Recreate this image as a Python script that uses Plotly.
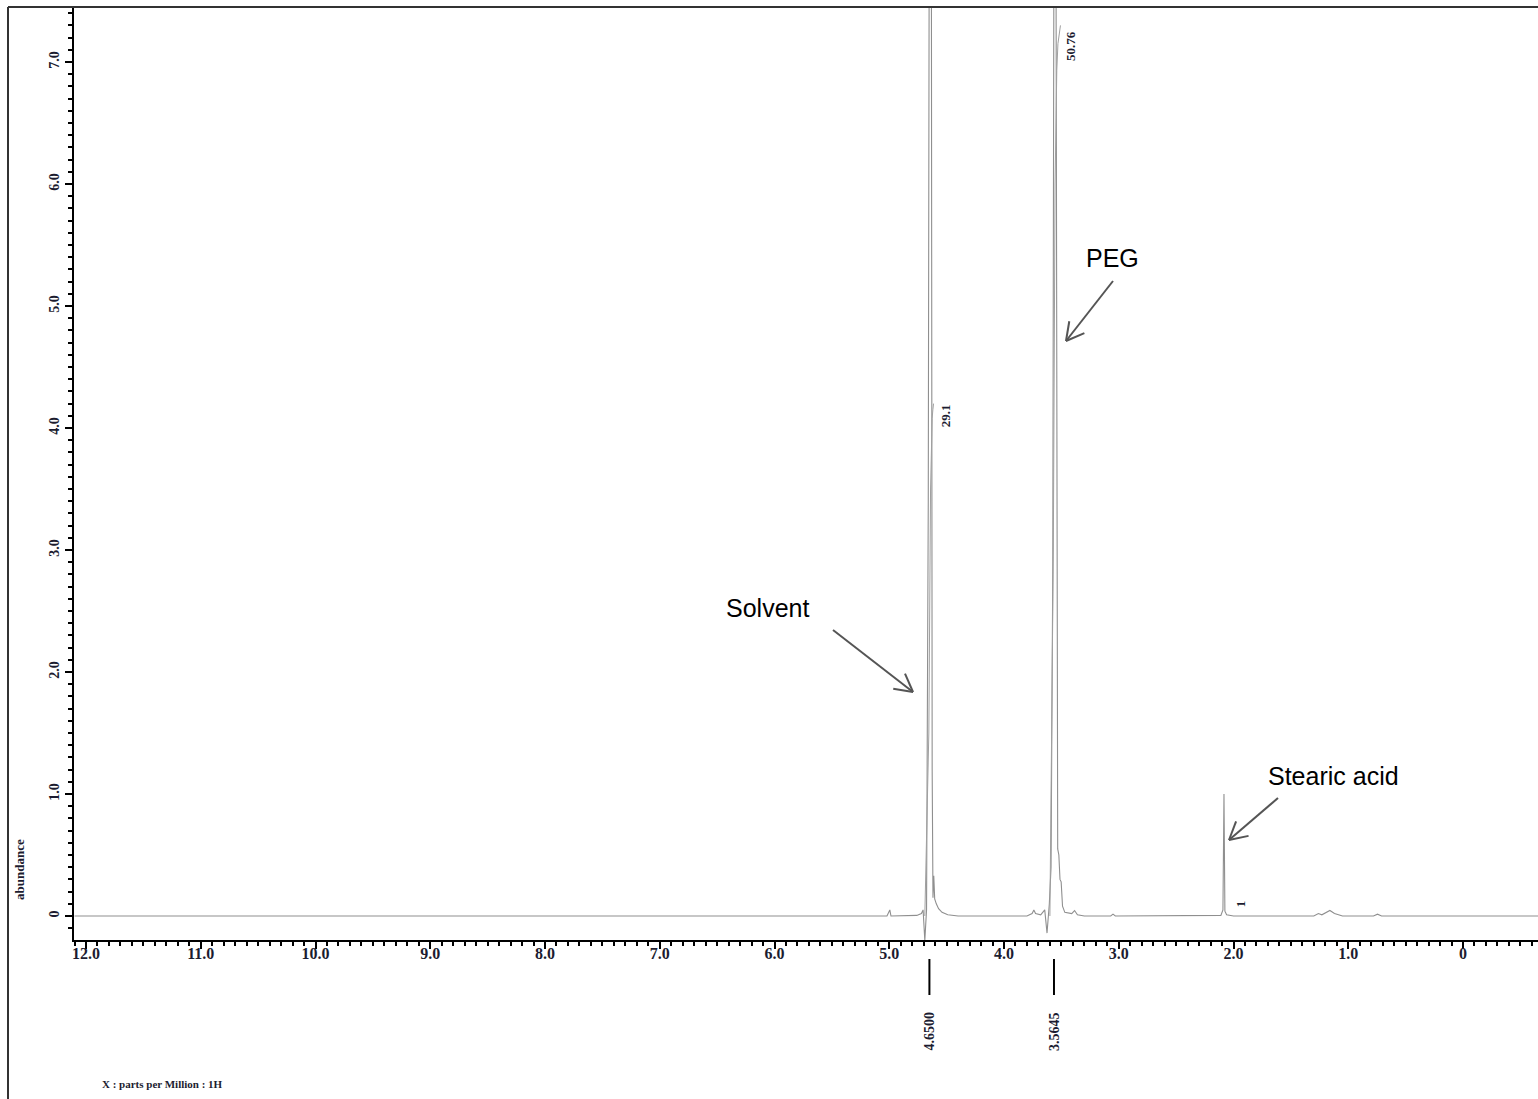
import math
import plotly.graph_objects as go

# ---------------- data ----------------
ppm = [12.10, 10.0, 8.0, 6.0, 5.02, 4.995, 4.985, 4.76, 4.72, 4.705, 4.690, 4.675,
       4.660, 4.650, 4.634, 4.626, 4.619, 4.612, 4.604, 4.59, 4.57, 4.54, 4.49, 4.40,
       3.80, 3.755, 3.74, 3.725, 3.68, 3.645, 3.625, 3.605, 3.590, 3.575, 3.563, 3.549,
       3.540, 3.532, 3.522, 3.512, 3.502, 3.490, 3.47, 3.41, 3.385, 3.36, 3.30,
       3.07, 3.05, 3.03, 2.11, 2.092, 2.083, 2.075, 2.06, 2.00,
       1.30, 1.26, 1.23, 1.16, 1.12, 1.05, 0.78, 0.745, 0.71, -0.66]
abundance = [0.0, 0.0, 0.0, 0.0, 0.0, 0.05, 0.0, 0.005, 0.02, 0.05, -0.2, 0.05,
             3.4, 9.0, 9.0, 1.2, 0.15, 0.33, 0.14, 0.10, 0.06, 0.03, 0.01, 0.0,
             0.0, 0.02, 0.05, 0.02, 0.01, 0.05, -0.14, 0.10, 0.40, 2.85, 9.0, 9.0,
             2.85, 0.55, 0.50, 0.30, 0.28, 0.08, 0.03, 0.02, 0.045, 0.01, 0.0,
             0.0, 0.015, 0.0, 0.005, 0.05, 1.0, 0.04, 0.01, 0.0,
             0.0, 0.02, 0.01, 0.045, 0.02, 0.0, 0.0, 0.015, 0.0, 0.0]

# integral curves (visible tops)
integ_solvent_ppm = [4.69, 4.655, 4.640, 4.632, 4.626, 4.620, 4.614]
integ_solvent_val = [0.0, 1.5, 3.5, 3.95, 4.08, 4.15, 4.20]
integ_peg_ppm = [3.60, 3.57, 3.555, 3.545, 3.540, 3.530, 3.518, 3.508]
integ_peg_val = [0.0, 3.0, 6.0, 6.8, 6.93, 7.15, 7.26, 7.30]

integral_labels = ["29.1", "50.76", "1"]
integral_label_ppm = [4.65, 3.5645, 2.083]
integral_label_y = [4.10, 7.13, 0.105]

peak_marks = [4.65, 3.5645]
peak_mark_labels = ["4.6500", "3.5645"]

x_tickvals = [12, 11, 10, 9, 8, 7, 6, 5, 4, 3, 2, 1, 0]
x_ticktext = ["12.0", "11.0", "10.0", "9.0", "8.0", "7.0", "6.0", "5.0",
              "4.0", "3.0", "2.0", "1.0", "0"]
y_tickvals = [0, 1, 2, 3, 4, 5, 6, 7]
y_ticktext = ["0", "1.0", "2.0", "3.0", "4.0", "5.0", "6.0", "7.0"]

callout_text = ["Solvent", "PEG", "Stearic acid"]

# ---------------- layout geometry ----------------
W, H = 1538, 1099
ML, MR, MT, MB = 74, 0, 7, 159
PW, PH = W - ML - MR, H - MT - MB
XR = [12.1046, -0.6536]
YR = [-0.1967, 7.4508]


def x_of(px):
    return XR[0] + (px - ML) / PW * (XR[1] - XR[0])


def y_of(py):
    return YR[1] - (py - MT) / PH * (YR[1] - YR[0])


def py_paper(py):
    return (H - MB - py) / PH


def px_paper(px):
    return (px - ML) / PW


TICKCOL = "#1c1c30"
SERIF = "Liberation Serif"

fig = go.Figure()
fig.add_trace(go.Scatter(x=ppm, y=abundance, mode="lines",
                         line=dict(color="#8f8f8f", width=1.1),
                         hoverinfo="skip", showlegend=False))
fig.add_trace(go.Scatter(x=integ_solvent_ppm, y=integ_solvent_val, mode="lines",
                         line=dict(color="#a0a0a0", width=1),
                         hoverinfo="skip", showlegend=False))
fig.add_trace(go.Scatter(x=integ_peg_ppm, y=integ_peg_val, mode="lines",
                         line=dict(color="#a0a0a0", width=1),
                         hoverinfo="skip", showlegend=False))

shapes = []
annotations = []

# outer frame (left + top)
shapes.append(dict(type="line", xref="paper", yref="paper",
                   x0=px_paper(8), x1=px_paper(8), y0=py_paper(7), y1=py_paper(1110),
                   line=dict(color="#333333", width=2)))
shapes.append(dict(type="line", xref="paper", yref="paper",
                   x0=px_paper(8), x1=px_paper(1545), y0=py_paper(7), y1=py_paper(7),
                   line=dict(color="#333333", width=2)))

# peak position markers below the axis
for p, lab in zip(peak_marks, peak_mark_labels):
    shapes.append(dict(type="line", xref="x", yref="paper", x0=p, x1=p,
                       y0=py_paper(959), y1=py_paper(995),
                       line=dict(color="black", width=2)))
    annotations.append(dict(x=p, y=py_paper(1031), xref="x", yref="paper",
                            xanchor="center", yanchor="middle",
                            text=lab, showarrow=False, textangle=-90,
                            font=dict(family=SERIF, size=14, color=TICKCOL, weight="bold")))

# integral labels
for p, yv, lab in zip(integral_label_ppm, integral_label_y, integral_labels):
    annotations.append(dict(x=p, y=yv, xref="x", yref="y", text=lab,
                            showarrow=False, textangle=-90, xshift=16,
                            xanchor="center", yanchor="middle",
                            font=dict(family=SERIF, size=13, color=TICKCOL, weight="bold")))

# callouts with open arrowheads
callouts = [
    ("Solvent", (767, 608), (833, 630), (913, 692)),
    ("PEG", (1112, 258), (1113, 281), (1066, 341)),
    ("Stearic acid", (1333, 776), (1278, 798), (1229, 840)),
]
ACOL = "#555555"
for (txt, (tx, ty), (ax0, ay0), (ax1, ay1)) in callouts:
    annotations.append(dict(x=x_of(tx), y=y_of(ty), xref="x", yref="y", text=txt,
                            showarrow=False, xanchor="center", yanchor="middle",
                            font=dict(family="Liberation Sans", size=25, color="black")))
    shapes.append(dict(type="line", xref="x", yref="y",
                       x0=x_of(ax0), y0=y_of(ay0), x1=x_of(ax1), y1=y_of(ay1),
                       line=dict(color=ACOL, width=2)))
    ang = math.atan2(ay0 - ay1, ax0 - ax1)
    for d in (-0.5, 0.5):
        hx = ax1 + 20 * math.cos(ang + d)
        hy = ay1 + 20 * math.sin(ang + d)
        shapes.append(dict(type="line", xref="x", yref="y",
                           x0=x_of(ax1), y0=y_of(ay1), x1=x_of(hx), y1=y_of(hy),
                           line=dict(color=ACOL, width=2)))

# axis labels
annotations.append(dict(x=px_paper(19), y=py_paper(870), xref="paper", yref="paper",
                        xanchor="center", yanchor="middle",
                        text="abundance", showarrow=False, textangle=-90,
                        font=dict(family=SERIF, size=13, color=TICKCOL, weight="bold")))
annotations.append(dict(x=px_paper(100), y=py_paper(1084), xref="paper", yref="paper",
                        xanchor="left", yanchor="middle",
                        text="X : parts per Million : 1H", showarrow=False,
                        font=dict(family=SERIF, size=11, color=TICKCOL, weight="bold")))

fig.update_layout(
    width=W, height=H,
    margin=dict(l=ML, r=MR, t=MT, b=MB, pad=0),
    paper_bgcolor="white", plot_bgcolor="white",
    showlegend=False,
    shapes=shapes, annotations=annotations,
    xaxis=dict(range=XR, showgrid=False, zeroline=False,
               showline=True, linecolor="black", linewidth=2,
               ticks="outside", ticklen=7, tickwidth=2, tickcolor="black",
               tickvals=x_tickvals, ticktext=x_ticktext, ticklabelstandoff=-9,
               tickfont=dict(family=SERIF, size=16, color=TICKCOL, weight="bold"),
               minor=dict(dtick=0.1, tick0=0, ticks="outside", ticklen=4,
                          tickwidth=2, tickcolor="black", showgrid=False)),
    yaxis=dict(range=YR, showgrid=False, zeroline=False,
               showline=True, linecolor="black", linewidth=2,
               ticks="outside", ticklen=7, tickwidth=2, tickcolor="black",
               tickvals=y_tickvals, ticktext=y_ticktext, tickangle=-90,
               tickfont=dict(family=SERIF, size=14, color=TICKCOL, weight="bold"),
               minor=dict(dtick=0.1, tick0=0, ticks="outside", ticklen=4,
                          tickwidth=2, tickcolor="black", showgrid=False)),
)

fig.write_html("out.html")
